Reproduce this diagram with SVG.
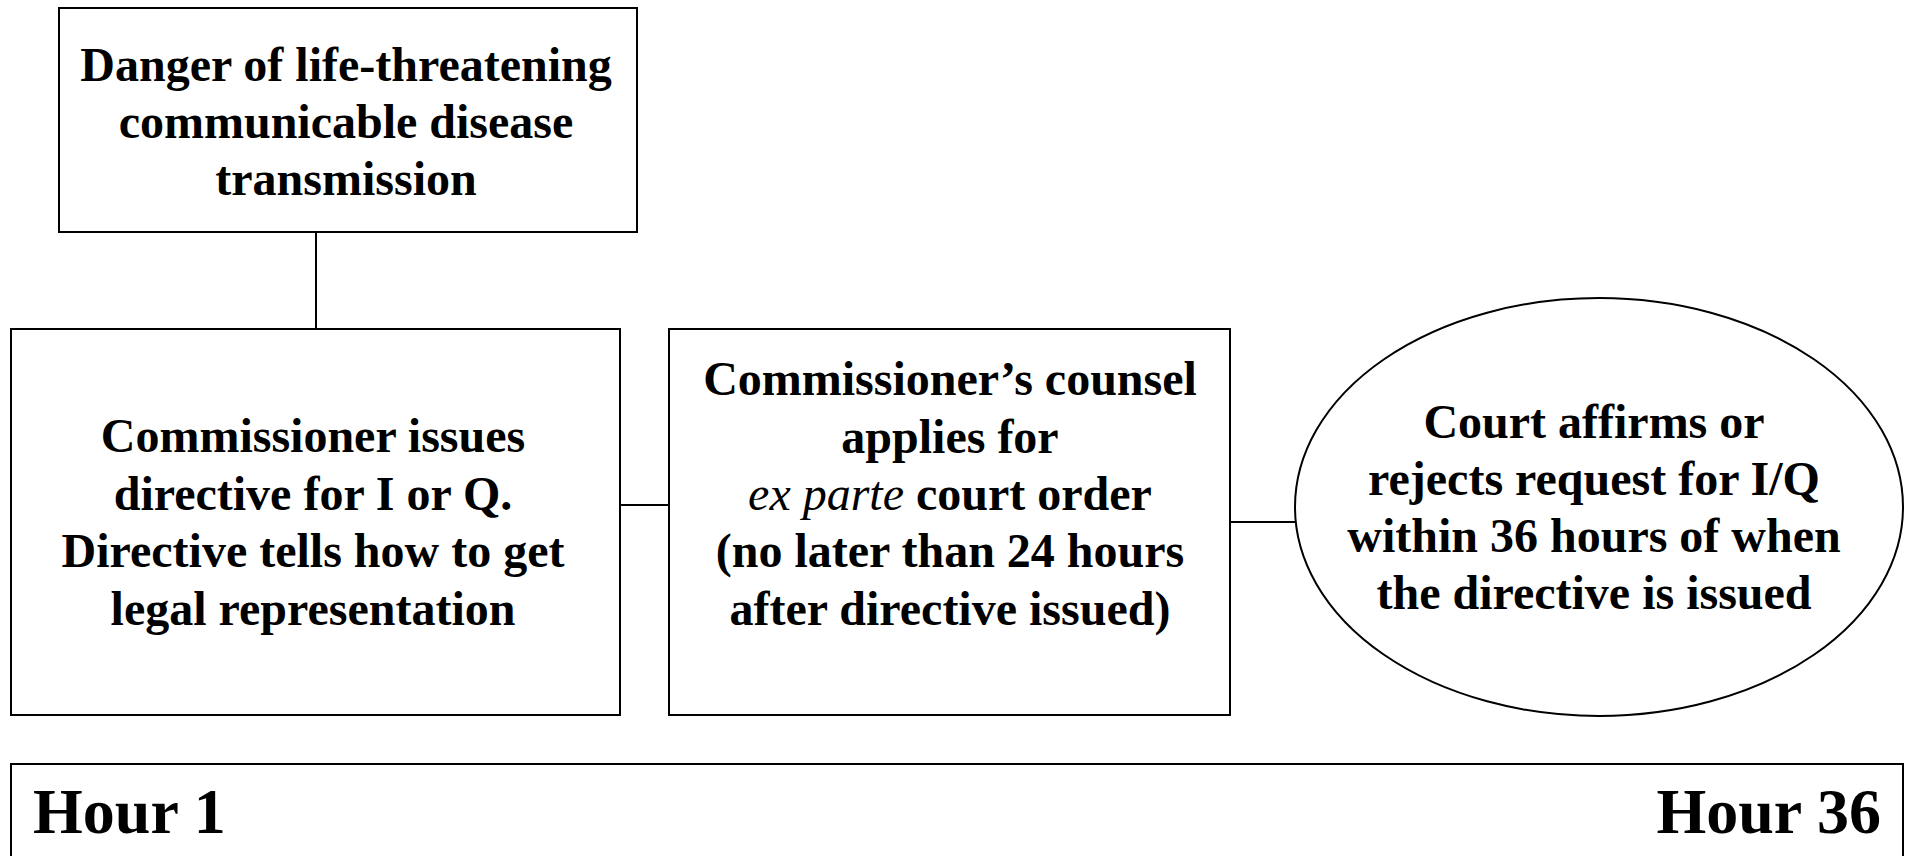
<svg xmlns="http://www.w3.org/2000/svg" width="1914" height="856" viewBox="0 0 1914 856">
<style>
.box{fill:#fff;stroke:#000;stroke-width:2}
.ln{stroke:#000;stroke-width:2;fill:none}
.t{font-family:"Liberation Serif","Times New Roman",serif;font-weight:bold;font-size:48px;fill:#000;text-anchor:middle}
.h{font-family:"Liberation Serif","Times New Roman",serif;font-weight:bold;font-size:64px;fill:#000}
</style>
<rect width="1914" height="856" fill="#fff"/>
<g id="connectors">
<line class="ln" x1="316" y1="232" x2="316" y2="329"/>
<line class="ln" x1="620" y1="505" x2="669" y2="505"/>
<line class="ln" x1="1230" y1="522" x2="1296" y2="522"/>
</g>
<g id="danger">
<rect class="box" x="59" y="8" width="578" height="224"/>
<text class="t" x="346" y="81">Danger of life-threatening</text>
<text class="t" x="346" y="138">communicable disease</text>
<text class="t" x="346" y="195">transmission</text>
</g>
<g id="directive">
<rect class="box" x="11" y="329" width="609" height="386"/>
<text class="t" x="313" y="452">Commissioner issues</text>
<text class="t" x="313" y="510">directive for I or Q.</text>
<text class="t" x="313" y="567">Directive tells how to get</text>
<text class="t" x="313" y="625">legal representation</text>
</g>
<g id="counsel">
<rect class="box" x="669" y="329" width="561" height="386"/>
<text class="t" x="950" y="395">Commissioner’s counsel</text>
<text class="t" x="950" y="453">applies for</text>
<text class="t" x="950" y="510"><tspan font-style="italic" font-weight="normal">ex parte</tspan> court order</text>
<text class="t" x="950" y="567">(no later than 24 hours</text>
<text class="t" x="950" y="625">after directive issued)</text>
</g>
<g id="court">
<ellipse class="box" cx="1599" cy="507" rx="304" ry="209"/>
<text class="t" x="1594" y="438">Court affirms or</text>
<text class="t" x="1594" y="495">rejects request for I/Q</text>
<text class="t" x="1594" y="552">within 36 hours of when</text>
<text class="t" x="1594" y="609">the directive is issued</text>
</g>
<g id="timeline">
<rect class="box" x="11" y="764" width="1892" height="120"/>
<text class="h" x="33" y="833">Hour 1</text>
<text class="h" x="1881" y="833" text-anchor="end">Hour 36</text>
</g>
</svg>
